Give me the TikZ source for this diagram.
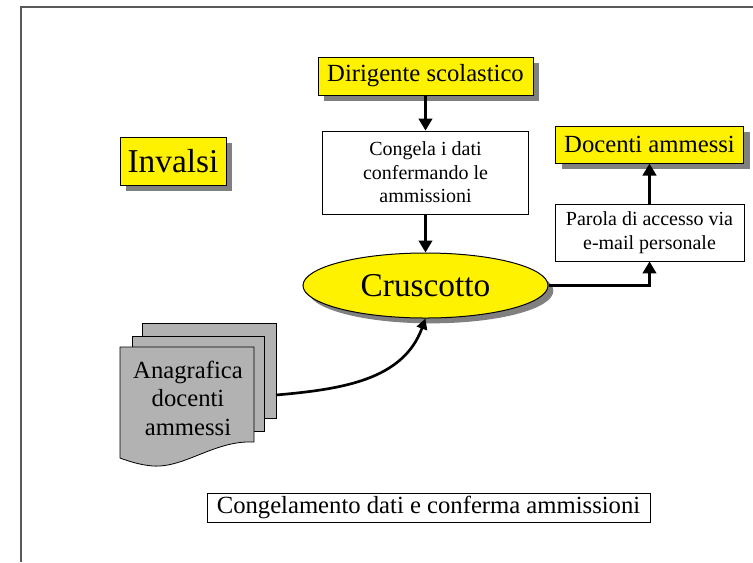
\documentclass[tikz,border=0pt]{standalone}
\usepackage{fontspec}
\setmainfont{Liberation Serif}
\usetikzlibrary{shapes.geometric,shadows,arrows.meta}

\begin{document}
\begin{tikzpicture}[x=0.75pt,y=0.75pt,yscale=-1,xscale=1,
  yellowbox/.style={draw,fill=yellow,line width=0.75pt,inner sep=0pt,general shadow={fill=gray,shadow xshift=4.5pt,shadow yshift=-4.5pt}},
  whitebox/.style={draw,fill=white,line width=0.6pt,inner sep=0pt,align=center},
  bigfont/.style={font=\fontsize{25}{29}\selectfont},
  midfont/.style={font=\fontsize{18.5}{21.4}\selectfont},
  smallfont/.style={font=\fontsize{15}{17.6}\selectfont},
  sheet/.style={fill=gray!60,draw,line width=0.6pt},
  flow/.style={line width=2.5pt,-{Triangle[length=9pt,width=10pt]}}]
\useasboundingbox (0,0) rectangle (753,562);

% Frame
\draw [line width=1.1pt,color=black!65]  (753,7) -- (21,7) -- (21,562) ;

% Text Node
\node [yellowbox,bigfont,minimum width=79.5pt,minimum height=36pt] (inv) at (173,161) {Invalsi};
% Text Node
\node [yellowbox,midfont,minimum width=161.25pt,minimum height=28.5pt] (dir) at (425.5,76) {Dirigente scolastico};
% Text Node
\node [whitebox,smallfont,minimum width=154.5pt,minimum height=62.25pt] (cong) at (425.5,172.5) {Congela i dati\\confermando le\\ammissioni};
% Text Node
\node [yellowbox,midfont,minimum width=141pt,minimum height=27.75pt] (doc) at (649.5,144.5) {Docenti ammessi};
% Text Node
\node [whitebox,smallfont,minimum width=141.75pt,minimum height=42.75pt] (par) at (649.5,232.5) {Parola di accesso via\\e-mail personale};
% Text Node
\node [ellipse,draw,fill=yellow,line width=0.75pt,inner sep=0pt,bigfont,general shadow={fill=gray,shadow xshift=4pt,shadow yshift=-4pt},minimum width=183.75pt,minimum height=48.75pt] (cru) at (425.5,285.5) {Cruscotto};

% Document stack
\draw [sheet]  (142,323) rectangle (276,418) ;
\draw [sheet]  (132,336) rectangle (264,431) ;
\draw [sheet]  (120,347) -- (254,347) -- (254,442) .. controls (215,440) and (185,468) .. (153,466) .. controls (140,465) and (128,461) .. (120,458) -- cycle ;
\node [midfont,align=center] (anag) at (188,398) {Anagrafica\\docenti\\ammessi};
\coordinate (stack) at (276,395);

% Text Node
\node [whitebox,midfont,minimum width=332.25pt,minimum height=21.75pt] (cap) at (428.5,507.5) {Congelamento dati e conferma ammissioni};

% Connection
\draw [flow]  (dir) -- (cong) ;
% Connection
\draw [flow]  (cong) -- (cru) ;
% Connection
\draw [flow]  (cru) -| (par) ;
% Connection
\draw [flow]  (par) -- (doc) ;
% Connection
\draw [line width=2pt,-{Triangle[length=8pt,width=8pt]}]  (stack) to[out=-5,in=110] (cru.south) ;

\end{tikzpicture}
\end{document}
